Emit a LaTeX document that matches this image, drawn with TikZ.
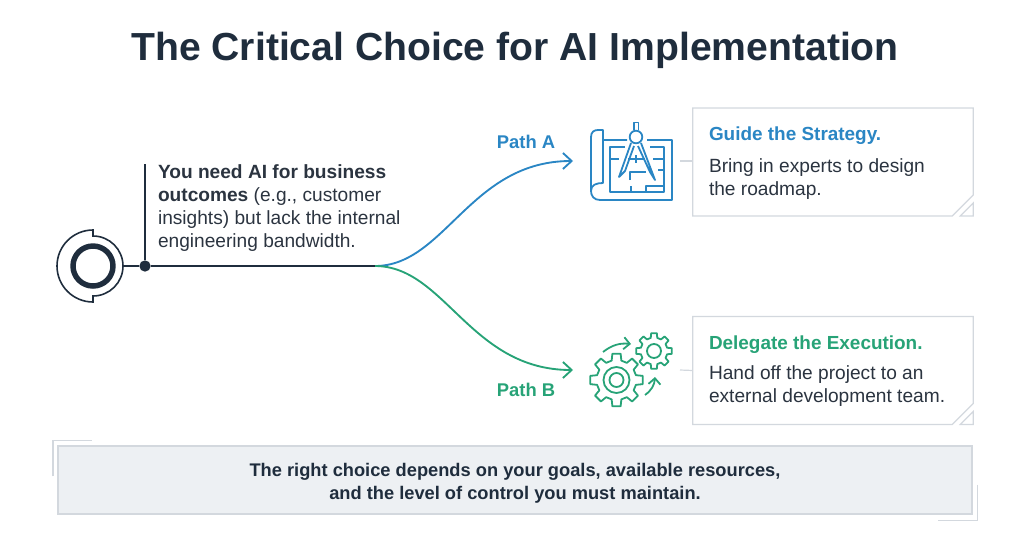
\documentclass[tikz,border=0pt]{standalone}
\usepackage{fontspec}
\setmainfont{Liberation Sans}
\usetikzlibrary{positioning, arrows.meta, calc}
\definecolor{inkdark}{HTML}{1F2D3D}
\definecolor{inkbody}{HTML}{2B3440}
\definecolor{pathblue}{HTML}{2A86C4}
\definecolor{pathgreen}{HTML}{27A377}
\definecolor{edgegray}{HTML}{D3D8DE}
\definecolor{bannerfill}{HTML}{EDF0F3}

% center, inner radius, outer radius, tooth half angle
\newcommand{\gearicon}[4]{
  \draw[iconline, pathgreen, line join=round] ($(#1)+(-#4:#3)$)
    \foreach \a in {0,45,...,315} {
      -- ($(#1)+(\a-#4:#3)$) -- ($(#1)+(\a+#4:#3)$)
      -- ($(#1)+(\a+#4+5:#2)$) -- ($(#1)+(\a+45-#4-5:#2)$)
    } -- cycle;
}

\begin{document}
\begin{tikzpicture}[x=0.75pt, y=-0.75pt,
plain/.style={inner sep=0pt, outer sep=0pt, align=left, text=inkbody, font=\fontsize{14.35}{17.25}\selectfont},
heading/.style={plain, font=\fontsize{14.2}{16}\bfseries\selectfont},
pathlabel/.style={plain, font=\fontsize{13.8}{15}\bfseries\selectfont},
cardbox/.style={inner sep=0pt, minimum width=210pt, minimum height=80.5pt},
cardedge/.style={draw=edgegray, line width=0.9pt, fill=white},
iconline/.style={line width=1.35pt},
flow/.style={line width=1.4pt, -{Straight Barb[length=6.5pt, width=12pt, line width=1.4pt]}},
turn/.style={iconline, pathgreen, -{Straight Barb[length=4.5pt, width=9pt, line width=1.35pt]}},
]
\useasboundingbox (0,0) rectangle (1024,550);

%Title
\node[plain, text=inkdark, font=\fontsize{29.35}{32}\bfseries\selectfont] (title) at (515,50) {The Critical Choice for AI Implementation};

%Start icon
\node[circle, draw=inkdark, line width=4.1pt, minimum size=30pt, inner sep=0pt] (ring) at (93,266) {};
\draw[inkdark, line width=1.2pt] (93,230) arc (-90:-270:36) -- (93,296) arc (90:-90:30) -- cycle;
\coordinate (iconright) at (123,266);
\node[circle, fill=inkdark, minimum size=8.5pt, inner sep=0pt] (dot) at (145,266) {};
\coordinate (stemtop) at (145,164);
\coordinate (fork) at (375,266);

%Problem text
\node[plain, anchor=north west] (problem) at (158,165) {\textbf{You need AI for business}\\\textbf{outcomes} (e.g., customer\\insights) but lack the internal\\engineering bandwidth.};

%Cards
\node[cardbox] (cardA) at (833,162) {};
\node[cardbox] (cardB) at (833,370.5) {};
\foreach \c in {cardA,cardB} {
  \draw[cardedge] (\c.north west) -- (\c.north east) -- ($(\c.south east)+(0,-21)$) -- ($(\c.south east)+(-21,0)$) -- (\c.south west) -- cycle;
  \draw[edgegray, line width=0.9pt] ($(\c.south east)+(0,-13)$) -- (\c.south east) -- ($(\c.south east)+(-13,0)$) -- cycle;
}
\node[heading, text=pathblue, anchor=west] (headA) at (709,136) {Guide the Strategy.};
\node[plain, below=10pt of headA.south west, anchor=north west] (bodyA) {Bring in experts to design\\the roadmap.};
\node[heading, text=pathgreen, anchor=west] (headB) at (709,345) {Delegate the Execution.};
\node[plain, below=9pt of headB.south west, anchor=north west] (bodyB) {Hand off the project to an\\external development team.};

%Path labels
\node[pathlabel, text=pathblue] (labelA) at (526,142) {Path A};
\node[pathlabel, text=pathgreen] (labelB) at (526,390) {Path B};
\coordinate (tipA) at (573,161);
\coordinate (tipB) at (573,370);

%Lines
\draw[inkdark, line width=1.2pt] (iconright) -- (dot);
\draw[inkdark, line width=1.6pt] (stemtop) -- (dot);
\draw[pathblue, flow] (fork) .. controls (445,266) and (470,161) .. (tipA);
\draw[pathgreen, flow] (fork) .. controls (445,266) and (470,370) .. (tipB);
\draw[inkdark, line width=1.8pt] (dot) -- (fork);
\draw[edgegray, line width=0.9pt] (680,161) -- (cardA.west |- 0,161);
\draw[edgegray, line width=0.9pt] (680,370) -- (cardB.west);

%Blueprint icon
\begin{scope}[pathblue, iconline, line join=round]
\draw (603,140) -- (627,140) (647,140) -- (672,140) -- (672,200) -- (600,200) .. controls (594,200) and (591,196) .. (591,191) -- (591,137) .. controls (591,132) and (594,130) .. (598,130) -- (603,130) -- (603,183) .. controls (596,183) and (591,185) .. (591,191);
\draw (625,147) -- (610,147) -- (610,192) -- (664,192) -- (664,147) -- (650,147);
\draw (634,130) -- (634,122.5) -- (638.5,122.5) -- (638.5,130);
\draw (636,137) circle (6.3);
\draw (631,143) -- (619,177) -- (625,171) -- (634,146);
\draw (641,143) -- (655,180) -- (650,172) -- (638,146);
\draw (610,159) -- (619,159) (628,159) -- (645,159) (653,159) -- (664,159);
\draw (636,155) -- (636,163);
\draw (664,170) -- (658,170);
\draw (630,180) -- (630,172) -- (646,172);
\draw (631,192) -- (631,186);
\draw (646,192) -- (646,186) -- (664,186);
\end{scope}

%Gear icon
\coordinate (gearbig) at (616.5,380);
\coordinate (gearsmall) at (654,351);
\gearicon{gearbig}{20}{26.5}{9}
\gearicon{gearsmall}{13.5}{18}{9}
\draw[pathgreen, iconline] (gearbig) circle (13);
\draw[pathgreen, iconline] (gearbig) circle (7);
\draw[pathgreen, iconline] (gearsmall) circle (7);
\coordinate (turnAstart) at (603,352);
\coordinate (turnAend) at (631,344);
\coordinate (turnBstart) at (645,395);
\coordinate (turnBend) at (655,377);
\draw[turn] (turnAstart) to[bend left=22] (turnAend);
\draw[turn] (turnBstart) to[bend right=25] (turnBend);

%Banner
\node[draw=edgegray, line width=0.9pt, fill=bannerfill, minimum width=685.5pt, minimum height=51pt, inner sep=0pt] (banner) at (515,480) {};
\node[plain, align=center, text=inkdark, font=\fontsize{13.7}{17.25}\bfseries\selectfont] (bannertext) at (515,483.5) {The right choice depends on your goals, available resources,\\and the level of control you must maintain.};
\draw[edgegray, line width=0.9pt] ($(banner.north west)+(-4.5,31)$) -- ($(banner.north west)+(-4.5,-5)$) -- ($(banner.north west)+(35,-5)$);
\draw[edgegray, line width=0.9pt] ($(banner.south east)+(5,-30)$) -- ($(banner.south east)+(5,6)$) -- ($(banner.south east)+(-35,6)$);
\end{tikzpicture}
\end{document}
